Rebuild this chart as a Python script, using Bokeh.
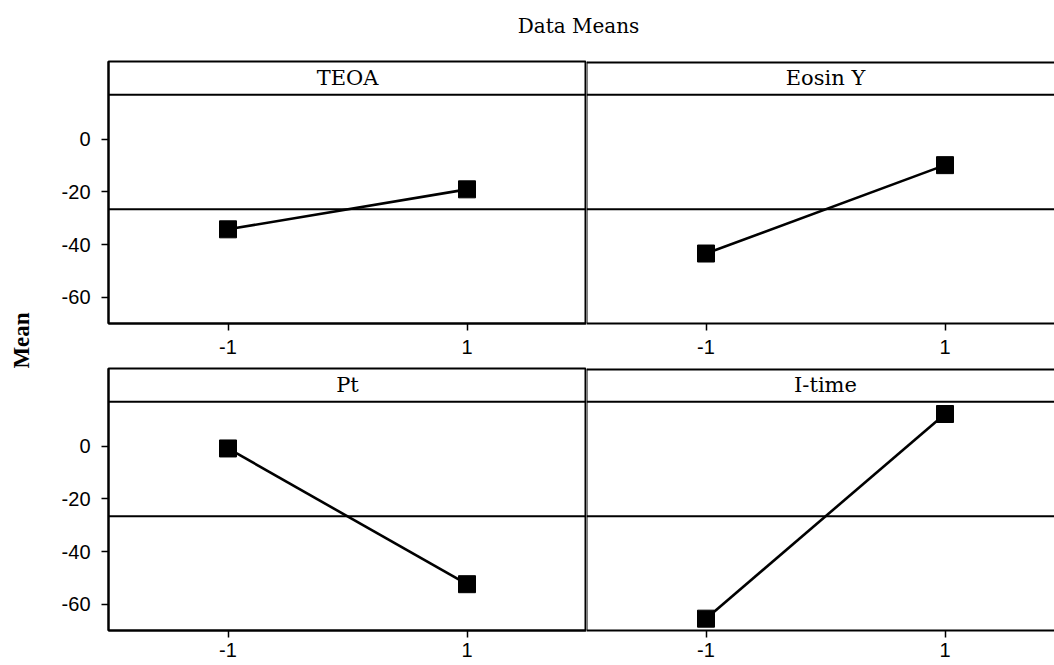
import numpy as np
from math import pi
from bokeh.plotting import figure
from bokeh.models import Range1d, FixedTicker, Span, Label
from bokeh.layouts import column, row
from bokeh.embed import file_html
from bokeh.resources import INLINE

# ---- data ----
factors = ["TEOA", "Eosin Y", "Pt", "I-time"]
levels = [-1, 1]
teoa_means = [-34.2, -19.0]
eosin_means = [-43.4, -9.8]
pt_means = [-0.8, -52.4]
itime_means = [-65.5, 12.3]
y_ticks = [-60, -40, -20, 0]
x_ticks = [-1, 1]
title_text = "Data Means"
y_label = "Mean"

all_means = [teoa_means, eosin_means, pt_means, itime_means]
grand_mean = float(np.mean(teoa_means + eosin_means + pt_means + itime_means))

# ---- style / layout constants ----
Y0, Y1 = -70.0, 29.6
STRIP = 17.0
SERIF = "DejaVu Serif"
SANS = "Liberation Sans"
PX_PER_UNIT = 119.5
LEFT_W, RIGHT_W = 538, 468
TOP_H, BOT_H = 307, 299


def style_axis(ax, ticks, standoff):
    ax.ticker = FixedTicker(ticks=ticks)
    ax.major_label_overrides = {t: str(t) for t in ticks}
    ax.axis_line_width = 2
    ax.major_tick_in = 0
    ax.major_tick_out = 7
    ax.major_tick_line_width = 1.5
    ax.minor_tick_line_color = None
    ax.major_label_text_font = SANS
    ax.major_label_text_font_size = "20px"
    ax.major_label_text_color = "black"
    ax.major_label_standoff = standoff


def panel(name, means, left, top_row):
    w = LEFT_W if left else RIGHT_W
    h = TOP_H if top_row else BOT_H
    xr = Range1d(-2, 2) if left else Range1d(-2, -2 + RIGHT_W / PX_PER_UNIT)
    p = figure(width=w, height=h, x_range=xr, y_range=Range1d(Y0, Y1),
               output_backend="svg", toolbar_location=None,
               y_axis_location="left" if left else None,
               min_border_left=60 if left else 0, min_border_right=0,
               min_border_top=2, min_border_bottom=43 if top_row else 35)
    p.grid.grid_line_color = None
    p.background_fill_color = "white"
    p.border_fill_color = "white"
    if left:
        p.outline_line_color = "black"
        p.outline_line_width = 2
    else:
        p.outline_line_color = None
        p.add_layout(Span(location=xr.start, dimension="height",
                          line_color="black", line_width=2))
        p.add_layout(Span(location=Y1, dimension="width",
                          line_color="black", line_width=4))

    for ax in p.xaxis:
        style_axis(ax, x_ticks, 9 if top_row else 5)
    if left:
        for ax in p.yaxis:
            style_axis(ax, y_ticks, 11)

    # strip separator and grand-mean reference line
    p.add_layout(Span(location=STRIP, dimension="width", line_color="black", line_width=2))
    p.add_layout(Span(location=grand_mean, dimension="width", line_color="black", line_width=2))
    p.add_layout(Label(x=0, y=(STRIP + Y1) / 2, text=name, text_align="center",
                       text_baseline="middle", text_font=SERIF,
                       text_font_size="21px", text_color="black"))

    p.line(levels, means, line_color="black", line_width=2.6)
    p.scatter(levels, means, marker="square", size=17, fill_color="black", line_color="black")
    return p


tl = panel(factors[0], all_means[0], True, True)
tr = panel(factors[1], all_means[1], False, True)
bl = panel(factors[2], all_means[2], True, False)
br = panel(factors[3], all_means[3], False, False)

# title strip
TW, TH = LEFT_W + RIGHT_W + 48, 59
tf = figure(width=TW, height=TH, x_range=Range1d(0, TW), y_range=Range1d(0, TH),
            output_backend="svg", toolbar_location=None, x_axis_location=None,
            y_axis_location=None, min_border=0, outline_line_color=None)
tf.grid.grid_line_color = None
tf.add_layout(Label(x=578, y=TH - 25, text=title_text, text_align="center", text_baseline="middle",
                    text_font=SERIF, text_font_size="20px", text_color="black"))

# y label strip
YH = TOP_H + BOT_H
yf = figure(width=48, height=YH, x_range=Range1d(0, 48), y_range=Range1d(0, YH),
            output_backend="svg", toolbar_location=None, x_axis_location=None,
            y_axis_location=None, min_border=0, outline_line_color=None)
yf.grid.grid_line_color = None
yf.add_layout(Label(x=21, y=YH - (340 - TH), text=y_label, angle=pi / 2, text_align="center",
                    text_baseline="middle", text_font="Liberation Serif",
                    text_font_style="bold", text_font_size="23px", text_color="black"))

layout = column(tf, row(yf, column(row(tl, tr), row(bl, br))))

open("out.html", "w").write(file_html(layout, INLINE))
